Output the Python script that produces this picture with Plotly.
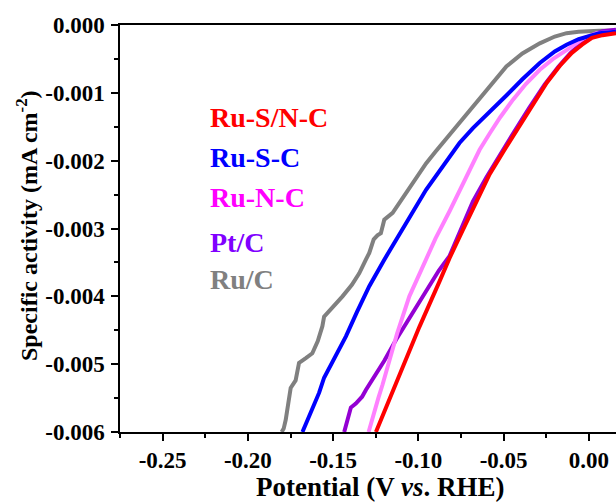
import plotly.graph_objects as go

# ---- data (potential V vs RHE, specific activity mA cm^-2) ----
names = ["Ru-S/N-C", "Ru-S-C", "Ru-N-C", "Pt/C", "Ru/C"]
line_colors = ["#FF0000", "#0000FF", "#FF80FF", "#9400D3", "#808080"]
label_colors = ["#FF0000", "#0000FF", "#FF00FF", "#8000FF", "#808080"]

ruSN_x = [-0.1249, -0.1180, -0.1112, -0.0994, -0.0876, -0.0818, -0.0739, -0.0700, -0.0653, -0.0582,
          -0.0500, -0.0424, -0.0330, -0.0247, -0.0170, -0.0100, -0.0040, 0.0018, 0.0080, 0.0159]
ruSN_y = [-6.00, -5.58, -5.15, -4.45, -3.78, -3.44, -3.02, -2.82, -2.58, -2.20,
          -1.86, -1.55, -1.18, -0.85, -0.60, -0.41, -0.29, -0.19, -0.15, -0.12]

ruS_x = [-0.1680, -0.1660, -0.1641, -0.1610, -0.1582, -0.1553, -0.1490, -0.1425, -0.1360, -0.1288,
         -0.1200, -0.1092, -0.1053, -0.0955, -0.0857, -0.0759, -0.0680, -0.0580, -0.0484, -0.0390,
         -0.0288, -0.0200, -0.0131, -0.0060, -0.0014, 0.0060, 0.0159]
ruS_y = [-6.00, -5.88, -5.77, -5.60, -5.42, -5.20, -4.90, -4.59, -4.23, -3.85,
         -3.46, -3.02, -2.84, -2.43, -2.09, -1.74, -1.52, -1.28, -1.04, -0.80,
         -0.56, -0.39, -0.29, -0.21, -0.17, -0.12, -0.10]

ruN_x = [-0.1292, -0.1265, -0.1235, -0.1210, -0.1170, -0.1125, -0.1053, -0.0975, -0.0900, -0.0818,
         -0.0719, -0.0641, -0.0582, -0.0520, -0.0445, -0.0370, -0.0288, -0.0210, -0.0131,
         -0.0034, 0.0045, 0.0159]
ruN_y = [-6.00, -5.75, -5.50, -5.30, -4.92, -4.55, -4.00, -3.55, -3.15, -2.75,
         -2.23, -1.84, -1.60, -1.36, -1.10, -0.87, -0.66, -0.50, -0.37,
         -0.20, -0.12, -0.10]

pt_x = [-0.1435, -0.1420, -0.1406, -0.1396, -0.1367, -0.1330, -0.1308, -0.1269, -0.1200, -0.1131,
        -0.1040, -0.0955, -0.0880, -0.0818, -0.0749, -0.0680, -0.0600, -0.0520, -0.0440, -0.0350,
        -0.0260, -0.0180, -0.0110, -0.0050, 0.0010, 0.0080, 0.0159]
pt_y = [-6.00, -5.85, -5.72, -5.64, -5.58, -5.48, -5.38, -5.23, -4.95, -4.64,
        -4.27, -3.90, -3.62, -3.41, -3.02, -2.60, -2.24, -1.90, -1.58, -1.22,
        -0.88, -0.62, -0.42, -0.28, -0.16, -0.09, -0.07]

ruC_x = [-0.1802, -0.1790, -0.1778, -0.1765, -0.1759, -0.1749, -0.1720, -0.1700, -0.1660, -0.1622,
         -0.1590, -0.1563, -0.1553, -0.1500, -0.1445, -0.1390, -0.1347, -0.1308, -0.1288, -0.1262,
         -0.1240, -0.1220, -0.1200, -0.1151, -0.1100, -0.1053, -0.0994, -0.0955, -0.0900, -0.0857,
         -0.0800, -0.0759, -0.0680, -0.0580, -0.0484, -0.0390, -0.0288, -0.0200, -0.0131, -0.0060,
         -0.0014, 0.0060, 0.0159]
ruC_y = [-6.00, -5.95, -5.82, -5.62, -5.53, -5.35, -5.24, -4.98, -4.91, -4.84,
         -4.66, -4.44, -4.30, -4.16, -4.00, -3.83, -3.66, -3.46, -3.36, -3.16,
         -3.10, -3.07, -2.87, -2.77, -2.58, -2.38, -2.18, -2.04, -1.87, -1.74,
         -1.57, -1.45, -1.20, -0.90, -0.61, -0.42, -0.27, -0.17, -0.12, -0.10,
         -0.09, -0.085, -0.08]

series_x = [ruSN_x, ruS_x, ruN_x, pt_x, ruC_x]
series_y = [ruSN_y, ruS_y, ruN_y, pt_y, ruC_y]

x_tickvals = [-0.25, -0.20, -0.15, -0.10, -0.05, 0.00]
x_ticktext = ["-0.25", "-0.20", "-0.15", "-0.10", "-0.05", "0.00"]
y_tickvals = [0.000, -0.001, -0.002, -0.003, -0.004, -0.005, -0.006]
y_ticktext = ["0.000", "-0.001", "-0.002", "-0.003", "-0.004", "-0.005", "-0.006"]

label_x = [-0.2235] * 5
label_y = [-0.00137, -0.00196, -0.00255, -0.00320, -0.00375]

FONT = "Liberation Serif, Times New Roman, serif"

fig = go.Figure()
# draw order: gray, purple, pink, blue, red (red on top)
for i in [4, 3, 2, 1, 0]:
    fig.add_trace(go.Scatter(
        x=series_x[i], y=[v * 1e-3 for v in series_y[i]],
        mode="lines", name=names[i],
        line=dict(color=line_colors[i], width=4),
        showlegend=False,
    ))

for i in range(5):
    fig.add_annotation(
        x=label_x[i], y=label_y[i], xref="x", yref="y",
        text=names[i], showarrow=False, xanchor="left", yanchor="middle",
        font=dict(family=FONT, size=28, color=label_colors[i], weight="bold"),
    )

# axis titles as annotations for precise placement (pixel positions converted to paper coords)
fig.add_annotation(
    x=(380 - 120) / 496.0, y=(502 - 487 - 70) / 407.0, xref="paper", yref="paper",
    text="Potential (V <i>vs</i>. RHE)",
    showarrow=False, xanchor="center", yanchor="middle",
    font=dict(family=FONT, size=27, color="black", weight="bold"),
)
fig.add_annotation(
    x=(27 - 120) / 496.0, y=(502 - 226 - 70) / 407.0, xref="paper", yref="paper",
    text="Specific activity (mA cm<sup>-2</sup>)",
    showarrow=False, xanchor="center", yanchor="middle", textangle=-90,
    font=dict(family=FONT, size=24, color="black", weight="bold"),
)

axis_common = dict(
    showgrid=False, zeroline=False, showline=True, linecolor="black", linewidth=1.5,
    ticks="outside", ticklen=7, tickwidth=1.5, tickcolor="black",
    tickfont=dict(family=FONT, size=23, color="black", weight="bold"),
)

fig.update_layout(
    width=616, height=502,
    margin=dict(l=120, r=0, t=25, b=70),
    plot_bgcolor="white", paper_bgcolor="white",
    xaxis=dict(
        range=[-0.275, 0.0159], tickmode="array", tickvals=x_tickvals, ticktext=x_ticktext,
        mirror=True,
        minor=dict(tickmode="linear", tick0=-0.275, dtick=0.05, ticks="outside", ticklen=4,
                   tickwidth=1.5, tickcolor="black", showgrid=False),
        **axis_common,
    ),
    yaxis=dict(
        range=[-0.006, 0.0], tickmode="array", tickvals=y_tickvals, ticktext=y_ticktext,
        ticklabelstandoff=2,
        minor=dict(tickmode="linear", tick0=-0.0055, dtick=0.001, ticks="outside", ticklen=4,
                   tickwidth=1.5, tickcolor="black", showgrid=False),
        **axis_common,
    ),
)

fig.write_html("out.html")
